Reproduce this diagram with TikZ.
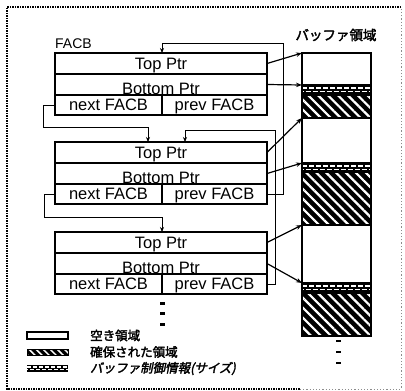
\documentclass[tikz,border=0pt]{standalone}
\usepackage{fontspec}
\setmainfont{Liberation Sans}
\newfontfamily\jp[FakeBold=2.5]{Noto Sans CJK JP}
\newfontfamily\jpsl[FakeBold=2.5,FakeSlant=0.2]{Noto Sans CJK JP}
\usetikzlibrary{arrows.meta,patterns.meta}
\tikzset{
  row/.style={draw, line width=1.5pt, minimum height=21pt, inner sep=0pt, outer sep=0pt, anchor=north west},
  lbl/.style={font=\fontsize{16.5}{18}\selectfont, inner sep=0pt, anchor=base},
  link/.style={line width=1pt, -{Stealth[length=5pt,width=4pt]}},
  ptr/.style={line width=1.2pt, -{Stealth[length=6pt,width=4.5pt]}},
  bufw/.style={draw, line width=1.8pt, fill=white, inner sep=0pt, outer sep=0pt, minimum width=69pt, anchor=north west},
  bufx/.style={preaction={fill=black}, pattern={Lines[angle=-45,distance=7pt,line width=2.2pt]}, pattern color=white, draw, line width=1.8pt, inner sep=0pt, outer sep=0pt, minimum width=69pt, anchor=north west},
  bufh/.style={fill=black, draw, line width=1.2pt, inner sep=0pt, outer sep=0pt, minimum width=69pt, minimum height=10pt, anchor=north west,
    path picture={
      \draw[white, line width=1.6pt, dash pattern=on 5pt off 2pt]
        ([yshift=-3pt]path picture bounding box.north west) -- ([yshift=-3pt]path picture bounding box.north east);
      \draw[white, line width=1.6pt, dash pattern=on 5pt off 2pt, dash phase=3.5pt]
        ([yshift=-6.5pt]path picture bounding box.north west) -- ([yshift=-6.5pt]path picture bounding box.north east);
    }},
  jptxt/.style={font=\jp\fontsize{12.5}{14}\selectfont, inner sep=0pt, anchor=west},
  dotmark/.style={fill=black},
}
\begin{document}
\begin{tikzpicture}[x=1pt,y=-1pt]
\useasboundingbox (0,0) rectangle (405,391);
% outer dotted frame
\draw[line width=1.2pt, dash pattern=on 1.2pt off 1.3pt] (401,7) -- (7,7) -- (7,389) -- (300,389);
\draw[line width=0.8pt, black!45, dash pattern=on 1.2pt off 2pt] (300,389) -- (401,389) -- (401,7);

% label FACB
\node[font=\fontsize{14}{16}\selectfont, inner sep=0pt, anchor=base west] (facb) at (55,48) {FACB};

% FACB boxes
\foreach \i/\y in {1/53,2/142,3/232}{
  \node[row, minimum width=212pt] (t\i) at (55,\y) {};
  \node[row, minimum width=212pt] (m\i) at (55,\y+21) {};
  \node[row, minimum width=107pt, minimum height=20pt] (n\i) at (55,\y+42) {};
  \node[row, minimum width=105pt, minimum height=20pt] (p\i) at (162,\y+42) {};
  \node[lbl] (tt\i) at ([yshift=4.5pt]t\i.south) {Top Ptr};
  \node[lbl] (mm\i) at ([yshift=0.8pt]m\i.south) {Bottom Ptr};
  \node[lbl] (nn\i) at ([yshift=4.5pt]n\i.south) {next FACB};
  \node[lbl] (pp\i) at ([yshift=4.5pt]p\i.south) {prev FACB};
}

% buffer area
\node[font=\jp\fontsize{13.5}{15}\selectfont, inner sep=0pt] (buflbl) at (336,35) {バッファ領域};
\node[bufw, minimum height=32pt] (w1) at (302,53) {};
\node[bufh] (h1) at (302,85) {};
\node[bufx, minimum height=23pt] (x1) at (302,95) {};
\node[bufw, minimum height=45pt] (w2) at (302,118) {};
\node[bufh, minimum height=9pt] (h2) at (302,163) {};
\node[bufx, minimum height=53pt] (x2) at (302,172) {};
\node[bufw, minimum height=58pt] (w3) at (302,225) {};
\node[bufh] (h3) at (302,283) {};
\node[bufx, minimum height=43pt] (x3) at (302,293) {};

% pointers to the buffer
\draw[ptr] (t1.east) -- (w1.north west);
\draw[ptr] (m1.east) -- (h1.north west);
\draw[ptr] (t2.east) -- (w2.north west);
\draw[ptr] (m2.east) -- (h2.north west);
\draw[ptr] (t3.east) -- (w3.north west);
\draw[ptr] (m3.east) -- (h3.north west);

% next / prev links
\draw[link] (n1.west) -| (43,127) -| ([xshift=-13pt]t2.north);
\draw[link] (p2.east) -| (283,43) -| ([xshift=1pt]t1.north);
\draw[link] (p3.east) -| (275,130) -| ([xshift=24pt]t2.north);
\draw[link] (n2.west) -| (44,217) -| ([xshift=1pt]t3.north);

% continuation dots
\foreach \yy in {303,313,324}{
  \fill[dotmark] (159.5,\yy-1.5) rectangle (164.5,\yy+1.5);
}
\foreach \yy in {341,352,363}{
  \fill[dotmark] (335.5,\yy-1.4) rectangle (340.5,\yy+1.4);
}

% legend
\node[draw, line width=1.6pt, fill=white, inner sep=0pt, outer sep=0pt, minimum width=41pt, minimum height=7pt, anchor=north west] (lg1) at (27,332) {};
\node[bufx, line width=0.8pt, minimum width=41pt, minimum height=6pt, pattern={Lines[angle=-45,distance=5pt,line width=1.5pt]}] (lg2) at (27,349) {};
\node[fill=black, inner sep=0pt, outer sep=0pt, minimum width=41pt, minimum height=7pt, anchor=north west] (lg3) at (27,365) {};
\draw[white, line width=1.2pt, dash pattern=on 4pt off 2pt] ([yshift=-2pt]lg3.north west) -- ([yshift=-2pt]lg3.north east);
\draw[white, line width=1.2pt, dash pattern=on 4pt off 2pt, dash phase=3pt] ([yshift=-4.8pt]lg3.north west) -- ([yshift=-4.8pt]lg3.north east);
\node[jptxt] (lt1) at (90,335.5) {空き領域};
\node[jptxt] (lt2) at (90,352) {確保された領域};
\node[jptxt, font=\jpsl\fontsize{12.5}{14}\selectfont] (lt3) at (90,368.5) {バッファ制御情報(サイズ)};
\end{tikzpicture}
\end{document}
